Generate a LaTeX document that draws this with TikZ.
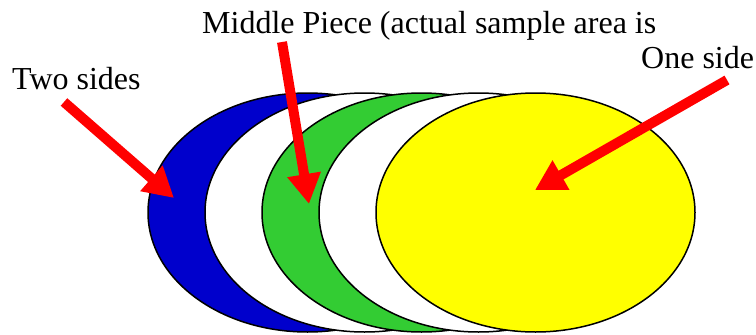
\documentclass[tikz,border=0pt]{standalone}
\usepackage{fontspec}
\setmainfont{Liberation Serif}
\usetikzlibrary{shapes.geometric,arrows.meta}
\definecolor{dblue}{RGB}{0,0,204}
\definecolor{lgreen}{RGB}{51,204,51}
\definecolor{yel}{RGB}{255,255,0}
\definecolor{red}{RGB}{255,0,0}
\tikzset{
  disc/.style={ellipse, draw=black, line width=1.5pt, minimum width=319pt, minimum height=239pt, inner sep=0pt},
  lbl/.style={font=\fontsize{32}{32}\selectfont, anchor=base west, inner sep=0pt},
  pointer/.style={draw=red, line width=10pt, -{Triangle[length=30pt,width=32pt]}}
}
\begin{document}
\begin{tikzpicture}[x=1pt,y=-1pt]
\useasboundingbox (0,0) rectangle (756,335);
\node[disc, fill=dblue] (blue) at (307.5,212.5) {};
\node[disc, fill=white] (white1) at (364.5,212.5) {};
\node[disc, fill=lgreen] (green) at (421.5,212.5) {};
\node[disc, fill=white] (white2) at (478.5,212.5) {};
\node[disc, fill=yel] (yellow) at (535.5,212.5) {};
\node[lbl] (two) at (12,89) {Two sides};
\node[lbl] (mid) at (202,33) {Middle Piece (actual sample area is};
\node[lbl] (one) at (641,68) {One side};
\coordinate (t1) at (64,102);
\coordinate (h1) at (174,198);
\coordinate (t2) at (282,42);
\coordinate (h2) at (309,204);
\coordinate (t3) at (727,80);
\coordinate (h3) at (535,190);
\draw[pointer] (t1) -- (h1);
\draw[pointer] (t2) -- (h2);
\draw[pointer] (t3) -- (h3);
\end{tikzpicture}
\end{document}
